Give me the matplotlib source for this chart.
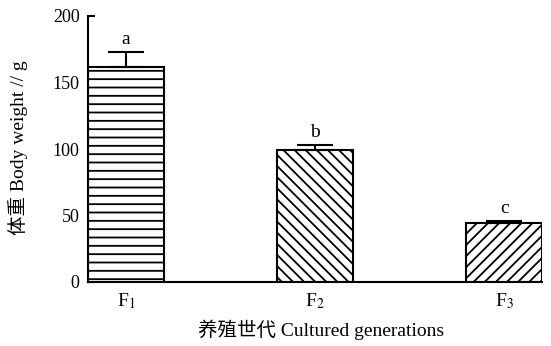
import numpy as np
import matplotlib.pyplot as plt

plt.rcParams['font.family'] = ['Liberation Serif', 'Noto Sans CJK SC']
plt.rcParams['mathtext.fontset'] = 'stix'
plt.rcParams['hatch.linewidth'] = 1.3

# data
gens = ["F$_1$", "F$_2$", "F$_3$"]
weight = [162, 99, 44]
err = [11, 4, 2]
letters = ["a", "b", "c"]
hatches = ["--", "\\\\\\", "///"]

fig = plt.figure(figsize=(5.51, 3.46), dpi=100)
ax = fig.add_axes([88/551, 64/346, (542-88)/551, 266/346])

x = np.arange(len(gens))
for i in x:
    ax.bar(i, weight[i], width=0.4, color='white', edgecolor='black',
           linewidth=1.5, hatch=hatches[i], zorder=2)
    ax.errorbar(i, weight[i], yerr=[[0], [err[i]]], fmt='none',
                ecolor='black', elinewidth=1.5, capsize=13, capthick=1.5, zorder=3)
    ax.text(i, weight[i] + err[i] + 3, letters[i], ha='center', va='bottom', fontsize=14)

ax.set_xlim(-0.2, 2.2)
ax.set_ylim(0, 200)
ax.set_yticks([0, 50, 100, 150, 200])
ax.set_xticks(x)
ax.set_xticklabels(gens, fontsize=14)
ax.tick_params(axis='y', direction='in', length=5, width=1.5, labelsize=13, pad=6)
ax.tick_params(axis='x', length=0, pad=7)
for s in ["right", "top"]:
    ax.spines[s].set_visible(False)
for s in ["left", "bottom"]:
    ax.spines[s].set_linewidth(1.5)

fig.text(18/551, 1 - 148/346, "体重 Body weight // g", rotation=90,
         ha='center', va='center', fontsize=14)
fig.text(321/551, 1 - 330/346, "养殖世代 Cultured generations",
         ha='center', va='center', fontsize=14)

fig.savefig("out.png", dpi=100)
